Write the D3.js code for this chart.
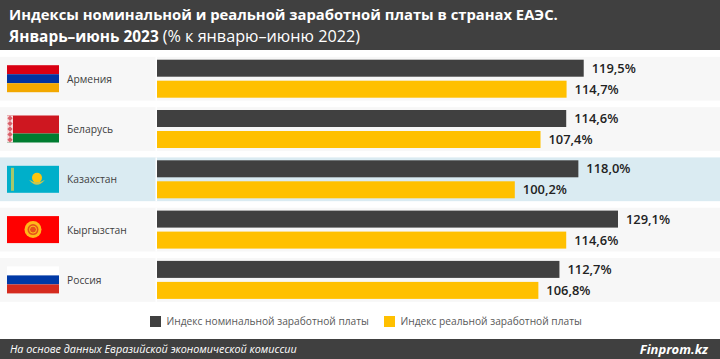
<!DOCTYPE html>
<html lang="ru">
<head>
  <meta charset="UTF-8">
  <title>Индексы заработной платы</title>
  <script src="https://d3js.org/d3.v7.min.js"></script>
  <style>
    html, body { margin: 0; padding: 0; background: #fff; overflow: hidden; }
    text { font-family: "Open Sans", sans-serif; }
  </style>
</head>
<body>
  <div id="chart"></div>
  <script>
    const countries = ["Армения", "Беларусь", "Казахстан", "Кыргызстан", "Россия"];
    const nominal = [119.5, 114.6, 118.0, 129.1, 112.7];
    const real = [114.7, 107.4, 100.2, 114.6, 106.8];
    const seriesNames = ["Индекс номинальной заработной платы", "Индекс реальной заработной платы"];

    const width = 720, height = 359;
    const dark = "#404040", yellow = "#ffc000";
    const fmt = v => v.toFixed(1).replace(".", ",") + "%";

    const svg = d3.select("#chart").append("svg")
      .attr("width", width)
      .attr("height", height)
      .style("display", "block");

    const x = d3.scaleLinear().domain([0, 129.1]).range([157, 618]);
    const y = d3.scaleBand().domain(countries).range([53.3, 305.3]).paddingInner(0.13).paddingOuter(0.07);

    // header
    svg.append("rect").attr("width", width).attr("height", 50).attr("fill", dark);
    svg.append("text").attr("x", 9).attr("y", 20).attr("fill", "#fff")
      .attr("font-size", 14.8).attr("font-weight", 700)
      .text("Индексы номинальной и реальной заработной платы в странах ЕАЭС.");
    const t2 = svg.append("text").attr("x", 9).attr("y", 42).attr("fill", "#fff");
    t2.append("tspan").attr("font-size", 15.4).attr("font-weight", 700).text("Январь–июнь 2023 ");
    t2.append("tspan").attr("font-size", 16.2).text("(% к январю–июню 2022)");

    // rows
    const rows = svg.selectAll(".row").data(countries).enter().append("g")
      .attr("class", "row")
      .attr("transform", d => `translate(0, ${y(d)})`);

    rows.append("rect")
      .attr("width", width)
      .attr("height", y.bandwidth())
      .attr("fill", d => d === "Казахстан" ? "#daebf2" : "#f7f7f7");
    rows.append("rect")
      .attr("x", 155.5).attr("width", 1.5)
      .attr("height", y.bandwidth())
      .attr("fill", "#fff");

    const fw = 52, fh = 27;
    const flags = rows.append("g").attr("transform", `translate(7, ${y.bandwidth() / 2 - fh / 2})`);
    flags.each(function (d) { drawFlag(d3.select(this), d); });

    rows.append("text")
      .attr("x", 67)
      .attr("y", y.bandwidth() / 2 + 4)
      .attr("font-size", 10.3)
      .attr("fill", "#404040")
      .text(d => d);

    const barH = 17;
    const barGap = 4;
    const barTop = (y.bandwidth() - barH * 2 - barGap) / 2;

    svg.selectAll(".nom").data(countries).enter().append("rect")
      .attr("x", x(0))
      .attr("y", d => y(d) + barTop)
      .attr("width", (d, i) => x(nominal[i]) - x(0))
      .attr("height", barH)
      .attr("fill", dark);
    svg.selectAll(".rea").data(countries).enter().append("rect")
      .attr("x", x(0))
      .attr("y", d => y(d) + barTop + barH + barGap)
      .attr("width", (d, i) => x(real[i]) - x(0))
      .attr("height", barH)
      .attr("fill", yellow);

    svg.selectAll(".nomLabel").data(countries).enter().append("text")
      .attr("x", (d, i) => x(nominal[i]) + 8)
      .attr("y", d => y(d) + barTop + barH / 2 + 4.5)
      .attr("font-size", 12.9).attr("font-weight", 600).attr("fill", "#222")
      .text((d, i) => fmt(nominal[i]));
    svg.selectAll(".reaLabel").data(countries).enter().append("text")
      .attr("x", (d, i) => x(real[i]) + 8)
      .attr("y", d => y(d) + barTop + barH + barGap + barH / 2 + 4.5)
      .attr("font-size", 12.9).attr("font-weight", 600).attr("fill", "#222")
      .text((d, i) => fmt(real[i]));

    // legend
    const legendX = [150, 384];
    seriesNames.forEach((name, i) => {
      svg.append("rect").attr("x", legendX[i]).attr("y", 316).attr("width", 11).attr("height", 11)
        .attr("fill", i === 0 ? dark : yellow);
      svg.append("text").attr("x", legendX[i] + 16.5).attr("y", 325)
        .attr("font-size", 10.2).attr("fill", "#595959").text(name);
    });

    // footer
    svg.append("rect").attr("y", 339).attr("width", width).attr("height", 20).attr("fill", dark);
    svg.append("text").attr("x", 10).attr("y", 353).attr("fill", "#fff")
      .attr("font-size", 10.8).attr("font-style", "italic")
      .text("На основе данных Евразийской экономической комиссии");
    svg.append("text").attr("x", 708).attr("y", 354).attr("fill", "#fff").attr("text-anchor", "end")
      .attr("font-size", 13).attr("font-style", "italic").attr("font-weight", 700)
      .text("Finprom.kz");

    function stripes(g, colors, shares) {
      let top = 0;
      colors.forEach((c, i) => {
        g.append("rect").attr("y", top * fh).attr("width", fw).attr("height", shares[i] * fh).attr("fill", c);
        top += shares[i];
      });
    }

    function drawFlag(g, name) {
      if (name === "Армения") {
        stripes(g, ["#d90012", "#0033a0", "#f2a800"], [1 / 3, 1 / 3, 1 / 3]);
      } else if (name === "Беларусь") {
        stripes(g, ["#ce1720", "#007c30"], [2 / 3, 1 / 3]);
        g.append("rect").attr("width", 6).attr("height", fh).attr("fill", "#f5dcdc");
        d3.range(5).forEach(k => {
          g.append("path")
            .attr("transform", `translate(3, ${2.7 + k * 5.4})`)
            .attr("d", "M0 -2.7L2.6 0L0 2.7L-2.6 0Z")
            .attr("fill", "#d8606a");
        });
      } else if (name === "Казахстан") {
        g.append("rect").attr("width", fw).attr("height", fh).attr("fill", "#00afca");
        g.append("rect").attr("x", 4).attr("y", 2).attr("width", 3).attr("height", fh - 4).attr("fill", "#a5c86a");
        g.append("circle").attr("cx", 30).attr("cy", 12).attr("r", 5).attr("fill", "#fec50c");
        g.append("path").attr("d", "M22 14 Q30 24 38 14 Q30 19 22 14Z").attr("fill", "#c9c650");
      } else if (name === "Кыргызстан") {
        g.append("rect").attr("width", fw).attr("height", fh).attr("fill", "#ff0000");
        g.append("circle").attr("cx", 26).attr("cy", fh / 2).attr("r", 8.5).attr("fill", "#ffb81a");
        g.append("circle").attr("cx", 26).attr("cy", fh / 2).attr("r", 5.5).attr("fill", "#e8501a");
        g.append("circle").attr("cx", 26).attr("cy", fh / 2).attr("r", 3.5)
          .attr("fill", "none").attr("stroke", "#ffc21a").attr("stroke-width", 1);
      } else {
        stripes(g, ["#ffffff", "#0039a6", "#d52b1e"], [1 / 3, 1 / 3, 1 / 3]);
      }
    }
  </script>
</body>
</html>
